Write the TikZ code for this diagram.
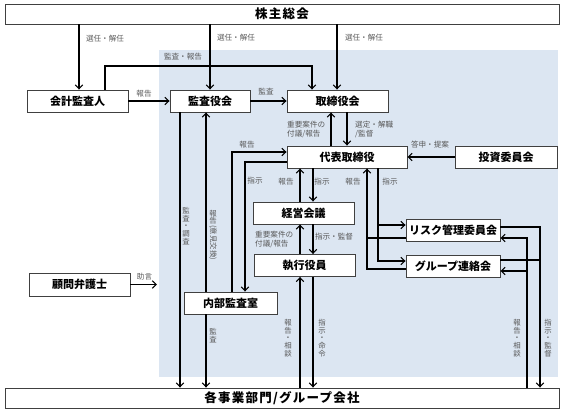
\documentclass[tikz,border=0pt]{standalone}
\usepackage{fontspec}
\setmainfont{Noto Sans CJK JP}
\usetikzlibrary{arrows.meta,calc}
\definecolor{bgblue}{HTML}{DCE6F2}
\definecolor{lblgray}{HTML}{595959}
\definecolor{boxline}{HTML}{404040}
\tikzset{
  box/.style={draw=boxline, line width=0.9pt, fill=white, inner sep=0pt,
    minimum height=22pt, font=\fontsize{11}{12}\selectfont\bfseries},
  bigbox/.style={box, minimum height=20pt,
    font=\fontsize{12.5}{13}\selectfont\bfseries\addfontfeature{LetterSpace=10}},
  arr/.style={line width=1.05pt, -{Straight Barb[length=4pt,width=7.5pt]}},
  ln/.style={line width=1.05pt},
  lbl/.style={text=lblgray, inner sep=0pt, font=\fontsize{7.6}{9}\selectfont},
  vlbl/.style={lbl, align=center, font=\fontsize{7.4}{7.6}\selectfont},
}
\begin{document}
\begin{tikzpicture}[x=1pt,y=-1pt]
\useasboundingbox (0,0) rectangle (567,412);
\fill[bgblue] (159,50) rectangle (558,377);

% boxes
\node[bigbox, minimum width=554pt] (top) at (282,14) {株主総会};
\node[bigbox, minimum width=554pt] (bot) at (282,398) {各事業部門/グループ会社};
\node[box, minimum width=101pt] (kaikei) at (77.5,101) {会計監査人};
\node[box, minimum width=80pt] (kansa) at (210,101) {監査役会};
\node[box, minimum width=101pt] (tori) at (337.5,101) {取締役会};
\node[box, minimum width=120pt] (daihyo) at (347,157) {代表取締役};
\node[box, minimum width=102pt] (toushi) at (506,157) {投資委員会};
\node[box, minimum width=101pt] (keiei) at (303.5,213) {経営会議};
\node[box, minimum width=101pt] (shikkou) at (304.5,265.5) {執行役員};
\node[box, minimum width=93pt] (naibu) at (230.5,303) {内部監査室};
\node[box, minimum width=94pt] (risk) at (453,230) {リスク管理委員会};
\node[box, minimum width=94pt] (group) at (453,266) {グループ連絡会};
\node[box, minimum width=101pt, minimum height=23pt] (komon) at (79.5,284.5) {顧問弁護士};

% lanes
\foreach \v in {79,105,180,206,210,232,245,300,312,313,331,337,347,367,378,527,540}
  \coordinate (x\v) at (\v,0);
\coordinate (y66) at (0,66);

% connectors
\draw[arr] (top.south -| x79) -- (kaikei.north -| x79);
\draw[arr] (top.south -| x210) -- (kansa.north -| x210);
\draw[arr] (top.south -| x337) -- (tori.north -| x337);
\draw[arr] (kaikei.north -| x105) -- (x105 |- y66) -| (tori.north -| x312);
\draw[arr] (kaikei.east) -- (kansa.west);
\draw[arr] (kansa.east) -- (tori.west);
\draw[arr] (daihyo.north -| x331) -- (tori.south -| x331);
\draw[arr] (tori.south -| x347) -- (daihyo.north -| x347);
\draw[arr] (toushi.west) -- (daihyo.east);
\draw[arr] (kansa.south -| x180) -- (bot.north -| x180);
\draw[arr] (naibu.north -| x206) -- (kansa.south -| x206);
\draw[arr] (naibu.south -| x206) -- (bot.north -| x206);
\draw[arr] (naibu.north -| x232) |- ([yshift=5pt]daihyo.west);
\draw[arr] ([yshift=-5pt]daihyo.west) -| (naibu.north -| x245);
\draw[arr] (keiei.north -| x300) -- (daihyo.south -| x300);
\draw[arr] (daihyo.south -| x313) -- (keiei.north -| x313);
\draw[arr] (shikkou.north -| x300) -- (keiei.south -| x300);
\draw[arr] (keiei.south -| x313) -- (shikkou.north -| x313);
\draw[arr] (bot.north -| x300) -- (shikkou.south -| x300);
\draw[arr] (shikkou.south -| x313) -- (bot.north -| x313);

\coordinate (rIn) at ([yshift=5pt]risk.west);
\coordinate (rOut) at ([yshift=-8pt]risk.west);
\coordinate (gIn) at ([yshift=5pt]group.west);
\coordinate (gOut) at ([yshift=-3pt]group.west);
\draw[arr] (daihyo.south -| x378) |- (gIn);
\draw[arr] (rIn -| x378) -- (rIn);
\draw[arr] (gOut) -| (daihyo.south -| x367);
\draw[ln] (rOut) -- (rOut -| x367);

\coordinate (rOutE) at ([yshift=3pt]risk.east);
\coordinate (rInE) at ([yshift=-8pt]risk.east);
\coordinate (gOutE) at ([yshift=6pt]group.east);
\coordinate (gInE) at ([yshift=-5pt]group.east);
\draw[arr] (rOutE) -| (bot.north -| x540);
\draw[ln] (gOutE) -- (gOutE -| x540);
\draw[arr] (bot.north -| x527) |- (rInE);
\draw[arr] (gInE -| x527) -- (gInE);

\coordinate (adv) at (157,284.5);
\draw[arr] (komon.east) -- (adv);

% labels
\node[lbl] (l1) at (105,39) {選任・解任};
\node[lbl] (l2) at (236,38) {選任・解任};
\node[lbl] (l3) at (364,38) {選任・解任};
\node[lbl] (l4) at (183,57) {監査・報告};
\node[lbl] (l5) at (144,94) {報告};
\node[lbl] (l6) at (266,92) {監査};
\node[lbl, align=left, anchor=west] (l7) at (287,129) {重要案件の\\付議/報告};
\node[lbl, align=left, anchor=west] (l8) at (355,129) {選定・解職\\/監督};
\node[lbl] (l9) at (430,145) {答申・提案};
\node[lbl] (l10) at (247,145) {報告};
\node[lbl] (l11) at (255,181) {指示};
\node[lbl] (l12) at (286,182) {報告};
\node[lbl] (l13) at (322,182) {指示};
\node[lbl] (l14) at (353,182) {報告};
\node[lbl] (l15) at (390,182) {指示};
\node[lbl, align=left, anchor=west] (l16) at (255,239) {重要案件の\\付議/報告};
\node[lbl] (l17) at (334,237) {指示・監督};
\node[lbl] (l18) at (144.5,277) {助言};
\node[vlbl] (v1) at (186,226) {監\\査\\・\\調\\査};
\node[vlbl] (v2) at (213,235) {報\\告\\\rotatebox[origin=c]{-90}{(意見交換)}};
\node[vlbl] (v3) at (213,335.5) {監\\査};
\node[vlbl] (v4) at (288,338) {報\\告\\・\\相\\談};
\node[vlbl] (v5) at (322,338) {指\\示\\・\\命\\令};
\node[vlbl] (v6) at (517,338) {報\\告\\・\\相\\談};
\node[vlbl] (v7) at (548,338) {指\\示\\・\\監\\督};
\end{tikzpicture}
\end{document}
